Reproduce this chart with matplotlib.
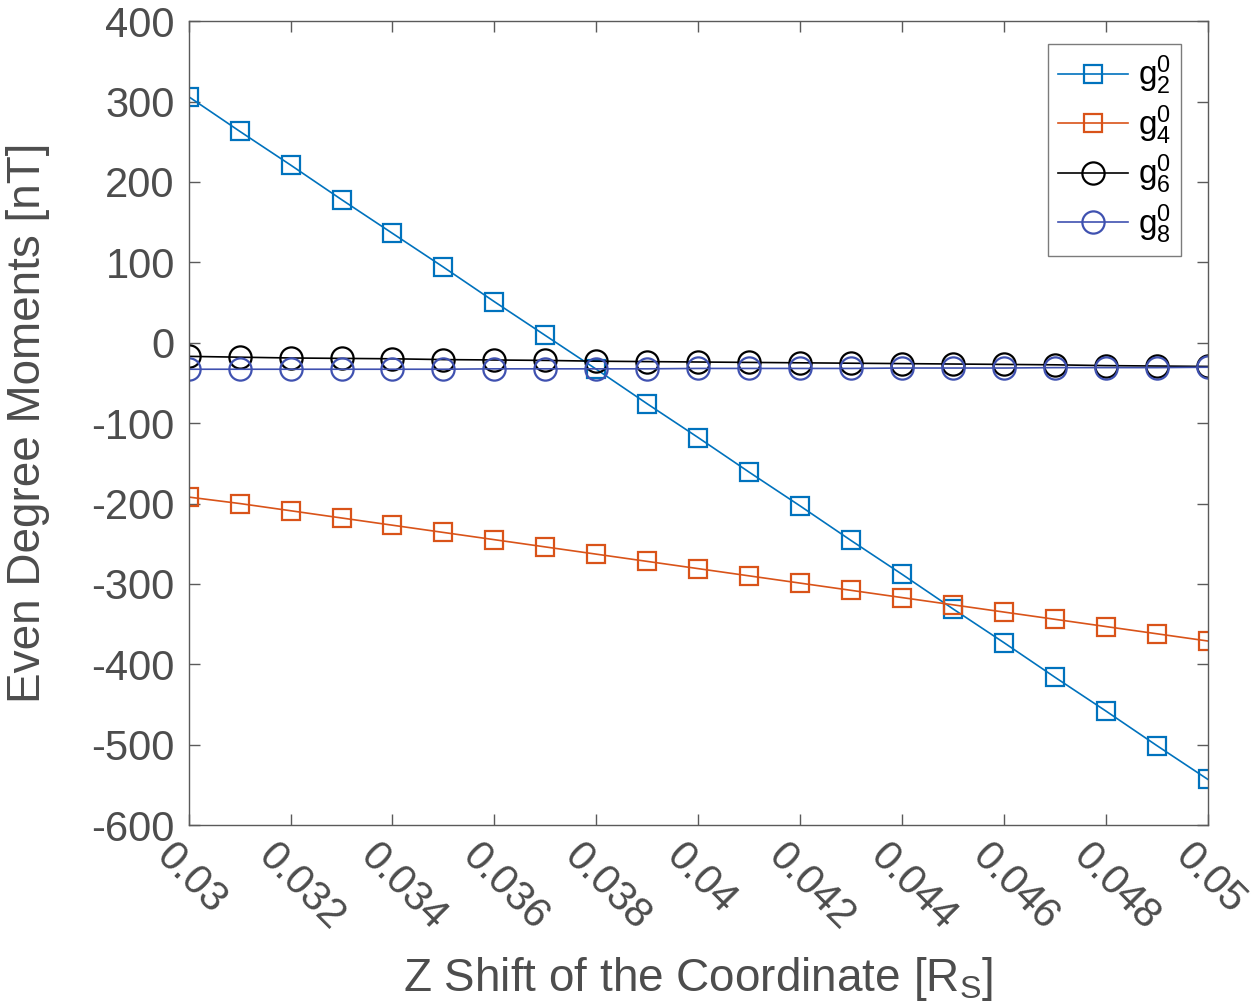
"""Even degree moments vs Z shift of the coordinate."""

import numpy as np
import matplotlib
matplotlib.use("Agg")
import matplotlib.pyplot as plt
import matplotlib.transforms as mtransforms

# x positions (Z shift in R_S)
z_shift = [0.030, 0.031, 0.032, 0.033, 0.034, 0.035, 0.036, 0.037, 0.038, 0.039, 0.040,
           0.041, 0.042, 0.043, 0.044, 0.045, 0.046, 0.047, 0.048, 0.049, 0.050]

g2 = [306, 263, 221, 178, 136, 94, 51, 9, -33, -76, -118,
      -161, -203, -246, -288, -331, -373, -416, -458, -501, -543]
g4 = [-192, -200, -209, -218, -227, -236, -245, -254, -263, -272, -281,
      -290, -299, -308, -317, -326, -335, -344, -353, -362, -371]
g6 = [-17, -18, -19, -19.5, -20, -21, -21.5, -22, -23, -23.5, -24,
      -24.5, -25, -25.5, -26, -26.5, -27, -27.5, -28.5, -29, -29.5]
g8 = [-33, -33, -33, -33, -33, -33, -32.5, -32.5, -32.5, -32.5, -32,
      -32, -32, -32, -31.5, -31.5, -31.5, -31, -31, -31, -30.5]

xticks = [0.03, 0.032, 0.034, 0.036, 0.038, 0.04, 0.042, 0.044, 0.046, 0.048, 0.05]
xticklabels = ["0.03", "0.032", "0.034", "0.036", "0.038", "0.04",
               "0.042", "0.044", "0.046", "0.048", "0.05"]
yticks = [400, 300, 200, 100, 0, -100, -200, -300, -400, -500, -600]

TXT = "#4d4d4d"
AX = "#5a5a5a"

plt.rcParams["font.family"] = ["Liberation Sans", "DejaVu Sans"]
plt.rcParams["mathtext.fontset"] = "custom"
plt.rcParams["mathtext.rm"] = "Liberation Sans"
plt.rcParams["mathtext.it"] = "Liberation Sans"
plt.rcParams["axes.unicode_minus"] = False

fig = plt.figure(figsize=(12.58, 10.05), dpi=100)
ax = fig.add_axes([0.150, 0.179, 0.810, 0.800])

ax.plot(z_shift, g2, color="#0072BD", lw=1.2, marker="s", ms=13, mfc="none", mew=1.6,
        label=r"$\mathregular{g_2^0}$")
ax.plot(z_shift, g4, color="#D95319", lw=1.2, marker="s", ms=13, mfc="none", mew=1.6,
        label=r"$\mathregular{g_4^0}$")
ax.plot(z_shift, g6, color="black", lw=1.2, marker="o", ms=16, mfc="none", mew=1.6,
        label=r"$\mathregular{g_6^0}$")
ax.plot(z_shift, g8, color="#3F51B0", lw=1.2, marker="o", ms=16, mfc="none", mew=1.6,
        label=r"$\mathregular{g_8^0}$")

ax.set_xlim(0.03, 0.05)
ax.set_ylim(-600, 400)
ax.set_xticks(xticks)
ax.set_xticklabels(xticklabels, rotation=-45, ha="left", va="top", rotation_mode="anchor",
                   fontsize=27)
ax.set_yticks(yticks)

ax.tick_params(direction="in", top=True, right=True, length=8, width=1,
               colors=AX, labelcolor=TXT, labelsize=30, pad=10)
ax.tick_params(axis="x", pad=8)
for sp in ax.spines.values():
    sp.set_color(AX)
    sp.set_linewidth(1)

# shift rotated x labels a bit left, like the original
shift = mtransforms.ScaledTranslation(-12 / 100, 0, fig.dpi_scale_trans)
for lbl in ax.get_xticklabels():
    lbl.set_transform(lbl.get_transform() + shift)

ax.set_xlabel(r"Z Shift of the Coordinate [R$\mathregular{_S}$]", fontsize=33, color=TXT, labelpad=12)
ax.set_ylabel("Even Degree Moments [nT]", fontsize=33, color=TXT, labelpad=30)

leg = ax.legend(loc="upper right", bbox_to_anchor=(0.974, 0.972), fontsize=24,
                frameon=True, fancybox=False, handlelength=2.1, borderpad=0.3,
                labelspacing=0.18, handletextpad=0.3, borderaxespad=0)
leg.get_frame().set_edgecolor(AX)
leg.get_frame().set_linewidth(1)

fig.savefig("out.png", dpi=100)
